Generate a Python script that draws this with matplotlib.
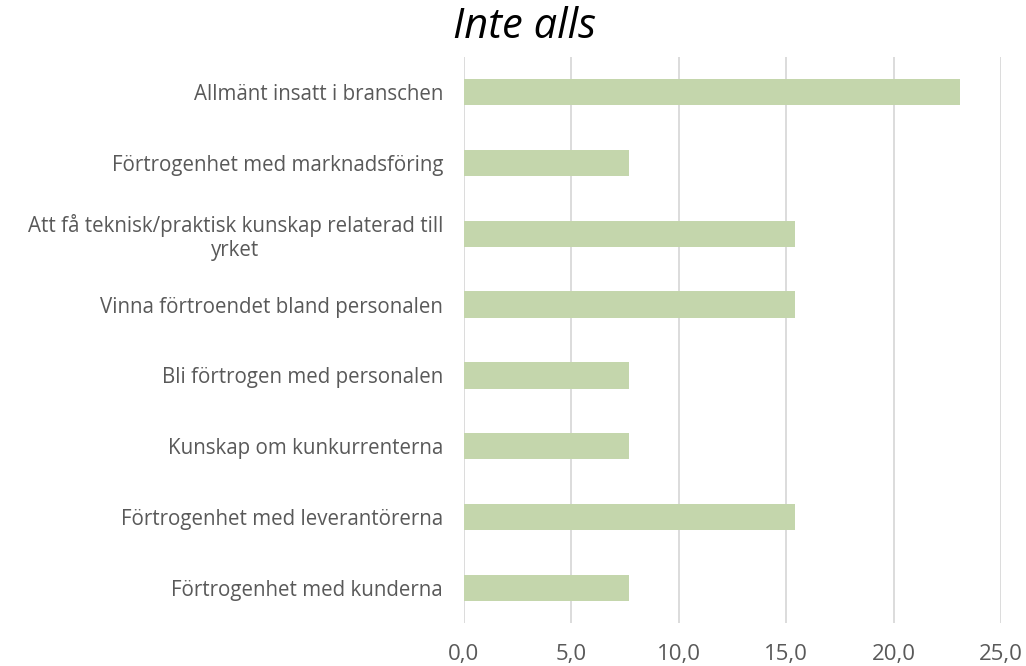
import matplotlib
matplotlib.use("Agg")
import matplotlib.pyplot as plt
from matplotlib.ticker import FuncFormatter

categories = [
    "Allmänt insatt i branschen",
    "Förtrogenhet med marknadsföring",
    "Att få teknisk/praktisk kunskap relaterad till\nyrket",
    "Vinna förtroendet bland personalen",
    "Bli förtrogen med personalen",
    "Kunskap om kunkurrenterna",
    "Förtrogenhet med leverantörerna",
    "Förtrogenhet med kunderna",
]
values = [23.1, 7.7, 15.4, 15.4, 7.7, 7.7, 15.4, 7.7]
xticks = [0, 5, 10, 15, 20, 25]
title = "Inte alls"

plt.rcParams['font.family'] = ['Open Sans', 'DejaVu Sans']

fig = plt.figure(figsize=(10.26, 6.66), dpi=100)
ax = fig.add_axes([0.4522, 0.064, 0.5234, 0.851])

y = list(range(len(categories)))
ax.barh(y, values, height=0.37, color="#C4D6AC", zorder=3)
ax.set_ylim(len(categories) - 0.5, -0.5)
ax.set_xlim(0, 25)
ax.set_xticks(xticks)
ax.xaxis.set_major_formatter(FuncFormatter(lambda v, p: f"{v:.1f}".replace(".", ",")))
ax.set_yticks(y)
ax.set_yticklabels(categories, multialignment="center", linespacing=1.2)
ax.grid(axis="x", color="#D9D9D9", linewidth=1.3, zorder=0)
for s in ax.spines.values():
    s.set_visible(False)
ax.tick_params(axis="both", length=0, colors="#595959")
ax.tick_params(axis="y", pad=15, labelsize=14.8)
ax.tick_params(axis="x", pad=15, labelsize=16)

fig.text(0.511, 0.943, title, ha="center", va="baseline", fontsize=30, style="italic", color="#000000")

fig.savefig("out.png", dpi=100)
